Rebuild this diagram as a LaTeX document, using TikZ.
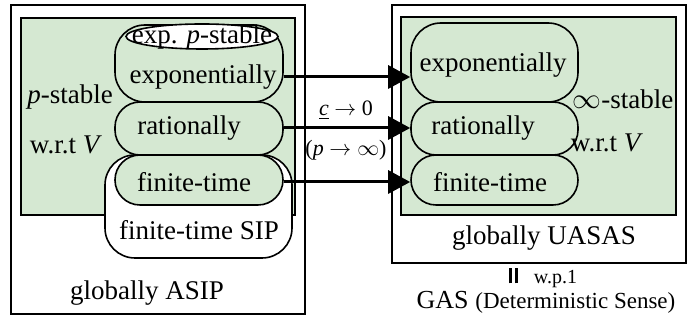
\documentclass[tikz,border=0pt]{standalone}
\usepackage{fontspec}
\setmainfont{Liberation Serif}
\usepackage{tikz}
\usetikzlibrary{arrows.meta, shapes.geometric}

\definecolor{sgreen}{RGB}{213,232,210}

\begin{document}
\begin{tikzpicture}[
    x=0.5pt, y=-0.5pt,
    every node/.style={font=\fontsize{13.5}{15}\selectfont, inner sep=0pt},
    outer/.style={draw, line width=0.85pt, fill=white},
    region/.style={draw, line width=1pt, fill=sgreen},
    pill/.style={draw, line width=0.8pt, rounded corners=12.5pt, fill=sgreen},
    arr/.style={-{Triangle[length=11pt, width=11.5pt]}, line width=1.5pt},
    lbl/.style={font=\fontsize{11}{13}\selectfont},
  ]
    \useasboundingbox (0,0) rectangle (694,324);

    % outer sets
    \node[outer, minimum width=147pt, minimum height=154.5pt] (asip) at (158,159.5) {};
    \node[outer, minimum width=147pt, minimum height=129pt] (uasas) at (539,134) {};
    \node[region, minimum width=137pt, minimum height=98.5pt] (pgreen) at (158,116.5) {};
    \node[region, minimum width=137.5pt, minimum height=99pt] (igreen) at (538.5,116) {};

    % left: p-stable
    \node[draw, line width=0.8pt, rounded corners=15pt, fill=white,
          minimum width=93.5pt, minimum height=51.5pt] (sip) at (198.5,206.5) {};
    \node[pill, rounded corners=15pt, minimum width=84pt, minimum height=38.5pt] (lexp) at (199,63.5) {};
    \node[pill, minimum width=84pt, minimum height=26.5pt] (lrat) at (199,128.5) {};
    \node[pill, minimum width=84pt, minimum height=25pt] (lfin) at (199,180) {};
    \node[draw, ellipse, line width=0.8pt, fill=white,
          minimum width=76pt, minimum height=12.5pt] (lexpp) at (202,36.5) {};

    \node (lexppt) at (202,37) {exp. \textit{p}-stable};
    \node (lexpt) at (203,77) {exponentially};
    \node (lratt) at (189,128) {rationally};
    \node (lfint) at (194,182) {finite-time};
    \node (sipt) at (199,230) {finite-time SIP};
    \node (pstab) at (70,97) {\textit{p}-stable};
    \node (lwrt) at (66,145) {w.r.t \textit{V}};
    \node (asipt) at (147,293) {globally ASIP};

    % right: infinity-stable
    \node[pill, rounded corners=15pt, minimum width=83.5pt, minimum height=39.5pt] (rexp) at (494.5,62.5) {};
    \node[pill, minimum width=83.5pt, minimum height=26.5pt] (rrat) at (494.5,128.5) {};
    \node[pill, minimum width=83.5pt, minimum height=25pt] (rfin) at (494.5,180) {};

    \node (rexpt) at (493,65) {exponentially};
    \node (rratt) at (483,128) {rationally};
    \node (rfint) at (490,182) {finite-time};
    \node (istab) at (623,99) {$\infty$-stable};
    \node (rwrt) at (607,143) {w.r.t \textit{V}};
    \node (uasast) at (544,238) {globally UASAS};
    \node (wp) at (543,278) {\rule{1.5pt}{7.5pt}\hspace{1.5pt}\rule{1.5pt}{7.5pt}\hspace{8pt}{\fontsize{10}{12}\selectfont w.p.1}};
    \node (gas) at (546,302) {{\fontsize{13}{15}\selectfont GAS} {\fontsize{11.5}{13}\selectfont (Deterministic Sense)}};

    % limits
    \draw[arr] (lexpt.east -| lexp.east) -- (lexpt.east -| rexp.west);
    \draw[arr] (lratt.east -| lrat.east) -- (lratt.east -| rrat.west);
    \draw[arr] (lfint.east -| lfin.east) -- (lfint.east -| rfin.west);
    \node[lbl] (climit) at (346,110) {\underline{\textit{c}} $\rightarrow$ 0};
    \node[lbl] (plimit) at (346,150) {(\textit{p} $\rightarrow\infty$)};
  \end{tikzpicture}
\end{document}
